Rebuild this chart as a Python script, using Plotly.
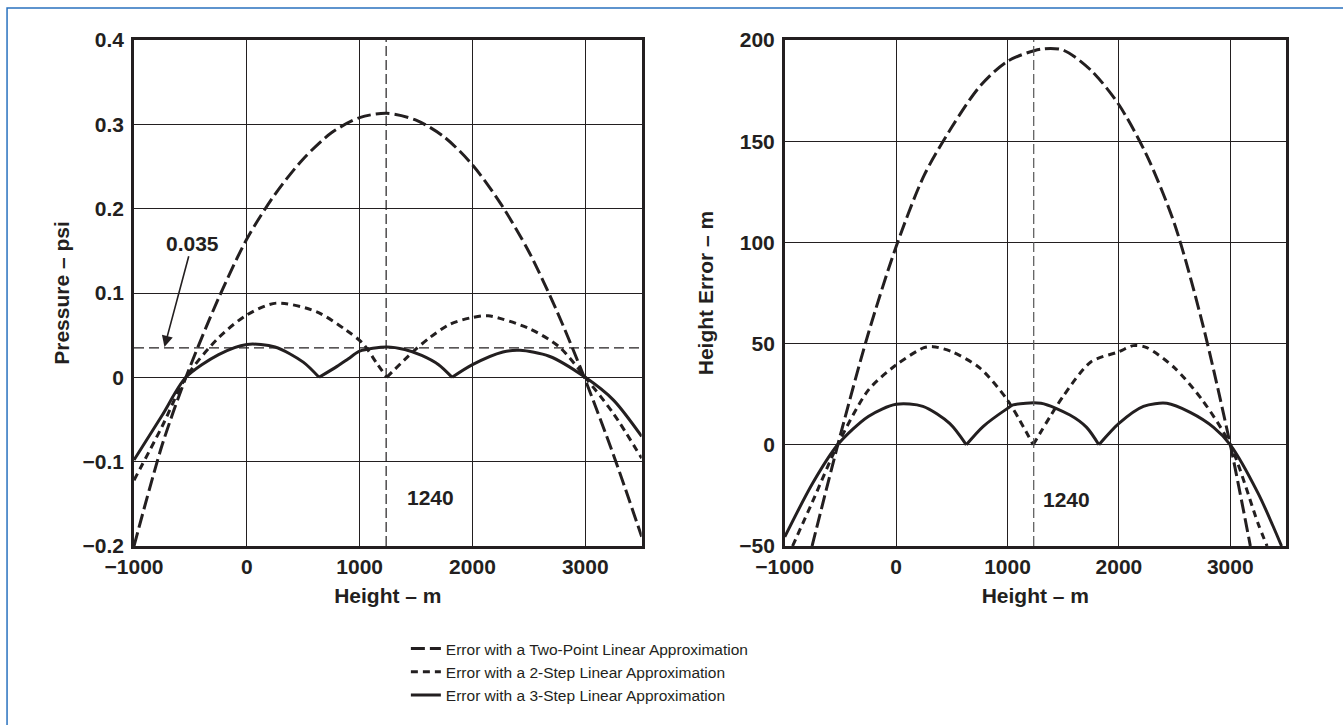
import plotly.graph_objects as go

# ---------------- data ----------------
# Left panel: pressure error (psi) vs height (m)
P_TWO_POINT_X = [-1000, -750, -540, -250, 0, 250, 500, 750, 1000, 1240, 1500, 1750, 2000, 2250, 2500, 2750, 3000, 3250, 3500]
P_TWO_POINT_Y = [-0.2, -0.08, 0.0, 0.094, 0.164, 0.217, 0.259, 0.29, 0.308, 0.313, 0.305, 0.285, 0.252, 0.206, 0.149, 0.078, -0.003, -0.092, -0.189]

P_TWO_STEP_X = [-1000, -750, -540, -250, 0, 260, 615, 880, 1030, 1150, 1240, 1470, 1620, 1800, 2000, 2140, 2500, 2770, 3000, 3250, 3500]
P_TWO_STEP_Y = [-0.122, -0.058, 0.0, 0.047, 0.074, 0.088, 0.078, 0.056, 0.040, 0.017, 0.0, 0.030, 0.047, 0.063, 0.071, 0.073, 0.058, 0.036, 0.0, -0.043, -0.096]

P_THREE_STEP_X = [-1000, -750, -540, -250, 0, 250, 500, 640, 800, 900, 1000, 1240, 1400, 1550, 1700, 1820, 2000, 2270, 2420, 2680, 3000, 3250, 3500]
P_THREE_STEP_Y = [-0.098, -0.045, 0.0, 0.027, 0.039, 0.036, 0.018, 0.0, 0.013, 0.022, 0.031, 0.036, 0.033, 0.026, 0.015, 0.0, 0.015, 0.030, 0.032, 0.025, 0.0, -0.027, -0.070]

# Right panel: height error (m) vs height (m)
H_TWO_POINT_X = [-755, -500, -250, 0, 250, 500, 750, 1000, 1300, 1500, 1750, 2000, 2250, 2500, 2750, 3000, 3180]
H_TWO_POINT_Y = [-50, 5, 55, 98, 133, 157, 177, 189.5, 195.5, 195, 185, 168, 143, 109, 60, 0, -50]

H_TWO_STEP_X = [-930, -750, -525, -250, 0, 250, 330, 500, 750, 1000, 1230, 1500, 1750, 2000, 2130, 2250, 2500, 2750, 3000, 3250, 3330]
H_TWO_STEP_Y = [-50, -28, 0, 27, 39.5, 48, 48.5, 46, 38, 22, 0, 24, 41, 46, 49, 48, 38, 22, 0, -39, -50]

H_THREE_STEP_X = [-1000, -750, -525, -250, 0, 240, 480, 630, 780, 1000, 1050, 1300, 1560, 1710, 1820, 2000, 2220, 2430, 2640, 2850, 3000, 3250, 3460]
H_THREE_STEP_Y = [-45.5, -19, 0, 14, 20, 19, 10.6, 0, 9, 18, 19.7, 20.5, 14.7, 8.6, 0, 10.6, 19, 20.5, 16, 8.6, 0, -24, -50]

# cusp positions (segment break points of the step approximations)
P_TWO_STEP_CUSPS = [1240]
P_THREE_STEP_CUSPS = [640, 1820]
H_TWO_STEP_CUSPS = [1230]
H_THREE_STEP_CUSPS = [630, 1820]

MARKER_HEIGHT = 1235          # dashed vertical reference line
PSI_REFERENCE = 0.035         # dashed horizontal reference line
LABEL_1240 = "1240"
LABEL_0035 = "0.035"

SERIES_NAMES = ["Error with a Two-Point Linear Approximation",
                "Error with a 2-Step Linear Approximation",
                "Error with a 3-Step Linear Approximation"]

X_RANGE = [-1000, 3500]
P_RANGE = [-0.2, 0.4]
H_RANGE = [-50, 200]

# ---------------- styling ----------------
INK = "#231f20"
FONT = "Liberation Sans, Arial, Helvetica, sans-serif"
DASHES = ["14px,5px", "7px,5px", "solid"]
LW = 3


def split_arcs(xs, ys, cusps):
    segs, cx, cy = [], [], []
    for x, y in zip(xs, ys):
        cx.append(x)
        cy.append(y)
        if x in cusps:
            segs.append((cx, cy))
            cx, cy = [x], [y]
    segs.append((cx, cy))
    return segs


fig = go.Figure()

panels = [
    ("x", "y", [(P_TWO_POINT_X, P_TWO_POINT_Y, []),
                (P_TWO_STEP_X, P_TWO_STEP_Y, P_TWO_STEP_CUSPS),
                (P_THREE_STEP_X, P_THREE_STEP_Y, P_THREE_STEP_CUSPS)], True),
    ("x2", "y2", [(H_TWO_POINT_X, H_TWO_POINT_Y, []),
                  (H_TWO_STEP_X, H_TWO_STEP_Y, H_TWO_STEP_CUSPS),
                  (H_THREE_STEP_X, H_THREE_STEP_Y, H_THREE_STEP_CUSPS)], False),
]

for xa, ya, series, legend_on in panels:
    for i, (xs, ys, cusps) in enumerate(series):
        for j, (sx, sy) in enumerate(split_arcs(xs, ys, cusps)):
            fig.add_trace(go.Scatter(
                x=sx, y=sy, mode="lines", xaxis=xa, yaxis=ya,
                name=SERIES_NAMES[i], legendgroup=f"g{i}",
                legendrank=i + 1,
                showlegend=(legend_on and j == 0),
                line=dict(color=INK, width=LW, dash=DASHES[i],
                          shape="spline", smoothing=0.8),
                cliponaxis=True, hoverinfo="skip",
            ))

common_axis = dict(
    showgrid=True, gridcolor=INK, gridwidth=1,
    showline=True, mirror=True, linecolor=INK, linewidth=2.5,
    zeroline=False, ticks="", automargin=False,
    tickfont=dict(family=FONT, size=21, color=INK, weight="bold"),
)
title_font = dict(family=FONT, size=21, color=INK, weight="bold")

fig.update_layout(
    template="none",
    width=1343, height=725,
    margin=dict(l=134, r=57, t=40, b=179, autoexpand=False),
    paper_bgcolor="white", plot_bgcolor="white",
    font=dict(family=FONT, color=INK),
    xaxis=dict(domain=[0, 0.4407], range=X_RANGE, dtick=1000, tick0=0,
               ticklabelstandoff=0,
               title=dict(text="Height – m", font=title_font, standoff=12),
               **common_axis),
    yaxis=dict(domain=[0, 1], range=P_RANGE, dtick=0.1, tick0=0,
               ticklabelstandoff=3,
               title=dict(text="Pressure – psi", font=title_font, standoff=8),
               **common_axis),
    xaxis2=dict(domain=[0.5649, 1], range=X_RANGE, dtick=1000, tick0=0,
                anchor="y2", ticklabelstandoff=0,
                title=dict(text="Height – m", font=title_font, standoff=12),
                **common_axis),
    yaxis2=dict(domain=[0, 1], range=H_RANGE, dtick=50, tick0=0,
                anchor="x2", ticklabelstandoff=3,
                title=dict(text="Height Error – m", font=title_font, standoff=20),
                **common_axis),
    showlegend=True,
    legend=dict(x=0.236, y=-0.17, xanchor="left", yanchor="top",
                bgcolor="rgba(0,0,0,0)", borderwidth=0,
                font=dict(family=FONT, size=15.5, color=INK),
                tracegroupgap=0, traceorder="grouped", itemwidth=30),
)

shapes = [
    # vertical reference lines at the marked height
    dict(type="line", xref="x", yref="y domain", x0=MARKER_HEIGHT, x1=MARKER_HEIGHT,
         y0=0, y1=1, line=dict(color=INK, width=1.2, dash="10px,4px"), layer="above"),
    dict(type="line", xref="x2", yref="y2 domain", x0=MARKER_HEIGHT, x1=MARKER_HEIGHT,
         y0=0, y1=1, line=dict(color="#555555", width=1.2, dash="10px,4px"), layer="above"),
    # horizontal reference line at 0.035 psi
    dict(type="line", xref="x domain", yref="y", x0=0, x1=1,
         y0=PSI_REFERENCE, y1=PSI_REFERENCE,
         line=dict(color=INK, width=1.2, dash="10px,5px"), layer="above"),
    # blue frame around the figure
    dict(type="rect", xref="paper", yref="paper", x0=-0.1102, x1=1.2,
         y0=-0.6, y1=1.0632, line=dict(color="#2a72bf", width=1.5),
         fillcolor="rgba(0,0,0,0)", layer="above"),
]
fig.update_layout(shapes=shapes)

ann_font = dict(family=FONT, size=21, color=INK, weight="bold")
fig.update_layout(annotations=[
    dict(xref="x", yref="y", x=-730, y=PSI_REFERENCE + 0.001,
         axref="x", ayref="y", ax=-484, ay=0.159,
         text=LABEL_0035, showarrow=True, arrowhead=2, arrowsize=1.4,
         arrowwidth=1.6, arrowcolor=INK, standoff=0, font=ann_font),
    dict(xref="x", yref="y", x=1626, y=-0.143, text=LABEL_1240,
         showarrow=False, font=ann_font),
    dict(xref="x2", yref="y2", x=1529, y=-26.9, text=LABEL_1240,
         showarrow=False, font=ann_font),
])

fig.write_html("out.html", config={"responsive": False, "displayModeBar": False},
               post_script="document.body.style.margin='0';document.body.style.overflow='hidden';")
